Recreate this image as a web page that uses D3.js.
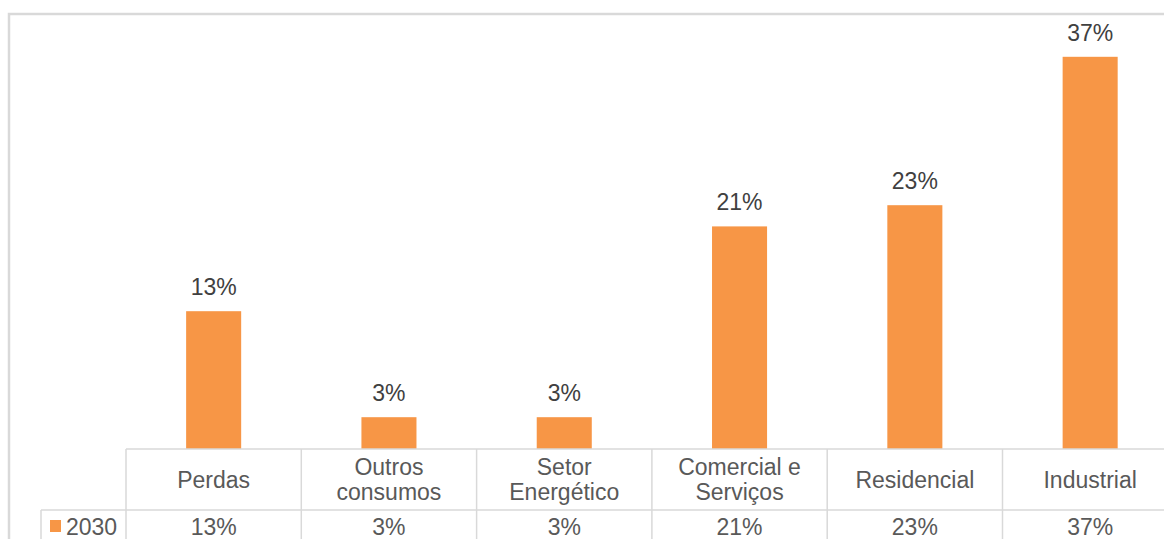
<!DOCTYPE html>
<html lang="pt">
  <head>
    <meta charset="utf-8">
    <title>Consumo por setor 2030</title>
    <script src="https://cdn.jsdelivr.net/npm/d3@7"></script>
    <style>
      html, body { margin: 0; padding: 0; background: #fff; }
      svg { display: block; }
      text { font-family: "Liberation Sans", Arial, sans-serif; }
    </style>
  </head>
  <body>
    <script>
      // dados
      const categories = ['Perdas', 'Outros consumos', 'Setor Energético', 'Comercial e Serviços', 'Residencial', 'Industrial'];
      const values2030 = [0.13, 0.03, 0.03, 0.21, 0.23, 0.37];
      const seriesName = '2030';

      const width = 1164,
          height = 539;

      const baseY = 449,       // bottom of plot / top of data table
          rowY = 510,          // second row of the table
          tableLeft = 126,
          legendLeft = 41;

      const orange = '#f79646',
          grid = '#d9d9d9',
          fontSize = 23;

      const svg = d3.select('body').append('svg')
          .attr('width', width)
          .attr('height', height);

      const x = d3.scaleBand()
          .domain(categories)
          .range([tableLeft, tableLeft + 6 * 175.3])
          .paddingInner(0.686)
          .paddingOuter(0.343);

      const y = d3.scaleLinear()
          .domain([0, 0.40])
          .range([baseY, baseY - 424]);

      const fmt = d3.format('.0%');

      // chart frame
      svg.append('rect')
          .attr('x', 9).attr('y', 14)
          .attr('width', width + 20).attr('height', height + 20)
          .attr('fill', 'none')
          .attr('stroke', grid)
          .attr('stroke-width', 2.5);

      // bars
      svg.selectAll('rect.bar')
          .data(values2030)
          .join('rect')
          .attr('class', 'bar')
          .attr('x', (d, i) => x(categories[i]))
          .attr('y', d => y(d))
          .attr('width', x.bandwidth())
          .attr('height', d => y(0) - y(d))
          .attr('fill', orange);

      // data labels
      svg.selectAll('text.label')
          .data(values2030)
          .join('text')
          .attr('class', 'label')
          .attr('x', (d, i) => x(categories[i]) + x.bandwidth() / 2)
          .attr('y', d => y(d) - 16)
          .attr('text-anchor', 'middle')
          .attr('font-size', fontSize)
          .attr('fill', '#404040')
          .text(d => fmt(d));

      // data table
      const step = x.step();
      const colLeft = i => tableLeft + i * step;
      const g = svg.append('g');

      g.append('line')
          .attr('x1', tableLeft).attr('x2', width)
          .attr('y1', baseY).attr('y2', baseY);
      g.append('line')
          .attr('x1', legendLeft).attr('x2', width)
          .attr('y1', rowY).attr('y2', rowY);
      g.append('line')
          .attr('x1', legendLeft).attr('x2', legendLeft)
          .attr('y1', rowY).attr('y2', height);
      d3.range(categories.length + 1).forEach(i => {
        g.append('line')
            .attr('x1', colLeft(i)).attr('x2', colLeft(i))
            .attr('y1', baseY).attr('y2', height);
      });
      g.selectAll('line')
          .attr('stroke', grid)
          .attr('stroke-width', 1.5);

      // category headers, wrapped like the spreadsheet does
      const header = svg.selectAll('text.cat')
          .data(categories)
          .join('text')
          .attr('class', 'cat')
          .attr('text-anchor', 'middle')
          .attr('font-size', fontSize)
          .attr('fill', '#595959');

      header.each(function(d, i) {
        const t = d3.select(this);
        const cx = x(d) + x.bandwidth() / 2;
        const words = d.split(' ');
        const lines = [];
        let cur = [];
        words.forEach(w => {
          t.text([...cur, w].join(' '));
          if (cur.length && this.getComputedTextLength() > 155) {
            lines.push(cur.join(' '));
            cur = [w];
          } else {
            cur.push(w);
          }
        });
        lines.push(cur.join(' '));
        t.text(null);
        const lh = 25;
        const top = (baseY + rowY) / 2 - (lines.length - 1) * lh / 2;
        lines.forEach((l, k) => {
          t.append('tspan')
              .attr('x', cx)
              .attr('y', top + k * lh + 8)
              .text(l);
        });
      });

      // values row
      svg.selectAll('text.val')
          .data(values2030)
          .join('text')
          .attr('class', 'val')
          .attr('x', (d, i) => x(categories[i]) + x.bandwidth() / 2)
          .attr('y', rowY + 25)
          .attr('text-anchor', 'middle')
          .attr('font-size', fontSize)
          .attr('fill', '#595959')
          .text(d => fmt(d));

      // legend key
      svg.append('rect')
          .attr('x', 50).attr('y', 520)
          .attr('width', 11).attr('height', 12)
          .attr('fill', orange);
      svg.append('text')
          .attr('x', 66).attr('y', rowY + 25)
          .attr('font-size', fontSize)
          .attr('fill', '#595959')
          .text(seriesName);
    </script>
  </body>
</html>
